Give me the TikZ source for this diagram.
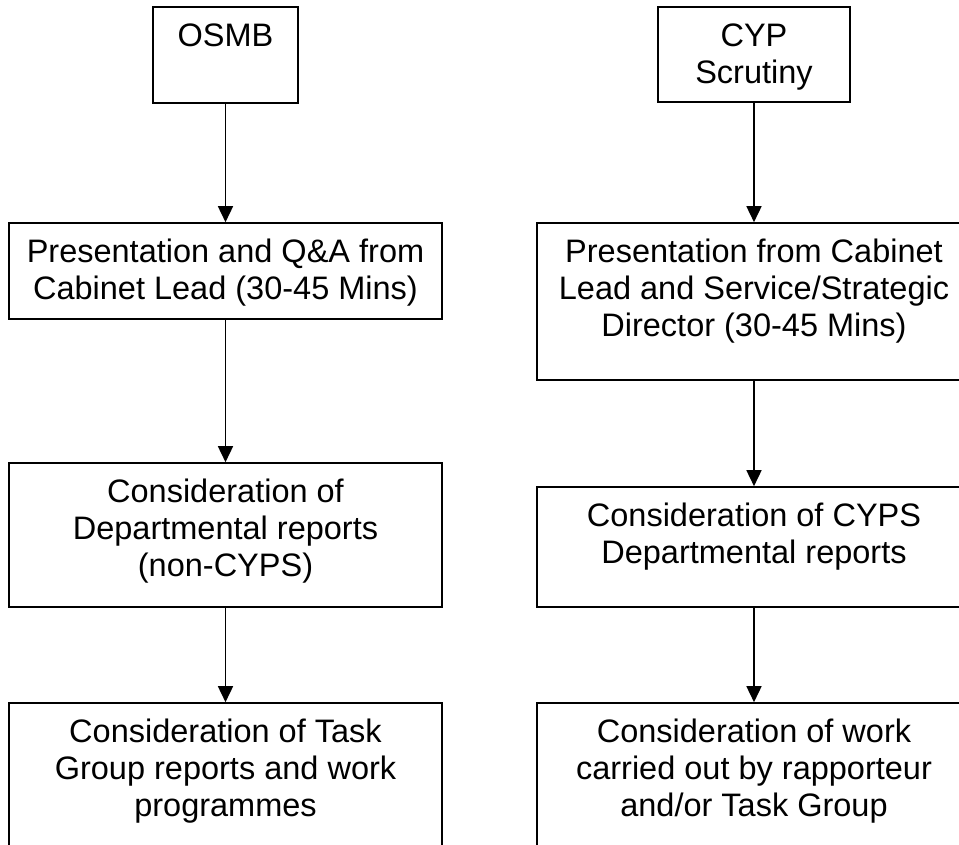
\documentclass[tikz,border=0pt]{standalone}
\usepackage{fontspec}
\setmainfont{Liberation Sans}
\usetikzlibrary{arrows.meta}
\tikzset{
  frame/.style={draw=black, line width=1.6pt, rectangle, inner sep=0pt, fill=none},
  label/.style={inner sep=0pt, align=center, anchor=north, font=\fontsize{32.5}{37}\selectfont},
  link/.style={draw=black, line width=1.6pt, -{Triangle[width=15pt,length=16pt]}}
}
\begin{document}
\begin{tikzpicture}[x=1pt, y=-1pt]
\useasboundingbox (0,0) rectangle (959,845);
% left column
\node[frame, minimum width=145pt, minimum height=96pt] (osmb) at (225.5,55) {};
\node[label] (osmbt) at (225.5,24) {OSMB};
\node[frame, minimum width=433pt, minimum height=96pt] (l2) at (225.5,271) {};
\node[label] (l2t) at (225.5,239) {Presentation and Q\&A from\\Cabinet Lead (30-45 Mins)};
\node[frame, minimum width=433pt, minimum height=144pt] (l3) at (225.5,535) {};
\node[label] (l3t) at (225.5,479) {Consideration of\\Departmental reports\\(non-CYPS)};
\node[frame, minimum width=433pt, minimum height=197pt] (l4) at (225.5,801.5) {};
\node[label] (l4t) at (225.5,719) {Consideration of Task\\Group reports and work\\programmes};
% right column
\node[frame, minimum width=192pt, minimum height=95pt] (cyp) at (754,54.5) {};
\node[label] (cypt) at (754,24) {CYP\\Scrutiny};
\node[frame, minimum width=434pt, minimum height=157pt] (r2) at (754,301.5) {};
\node[label] (r2t) at (754,239) {Presentation from Cabinet\\Lead and Service/Strategic\\Director (30-45 Mins)};
\node[frame, minimum width=434pt, minimum height=120pt] (r3) at (754,547) {};
\node[label] (r3t) at (754,503) {Consideration of CYPS\\Departmental reports};
\node[frame, minimum width=434pt, minimum height=197pt] (r4) at (754,801.5) {};
\node[label] (r4t) at (754,719) {Consideration of work\\carried out by rapporteur\\and/or Task Group};
% connectors
\draw[link] (osmb.south) -- (l2.north);
\draw[link] (l2.south) -- (l3.north);
\draw[link] (l3.south) -- (l4.north);
\draw[link] (cyp.south) -- (r2.north);
\draw[link] (r2.south) -- (r3.north);
\draw[link] (r3.south) -- (r4.north);
\end{tikzpicture}
\end{document}
